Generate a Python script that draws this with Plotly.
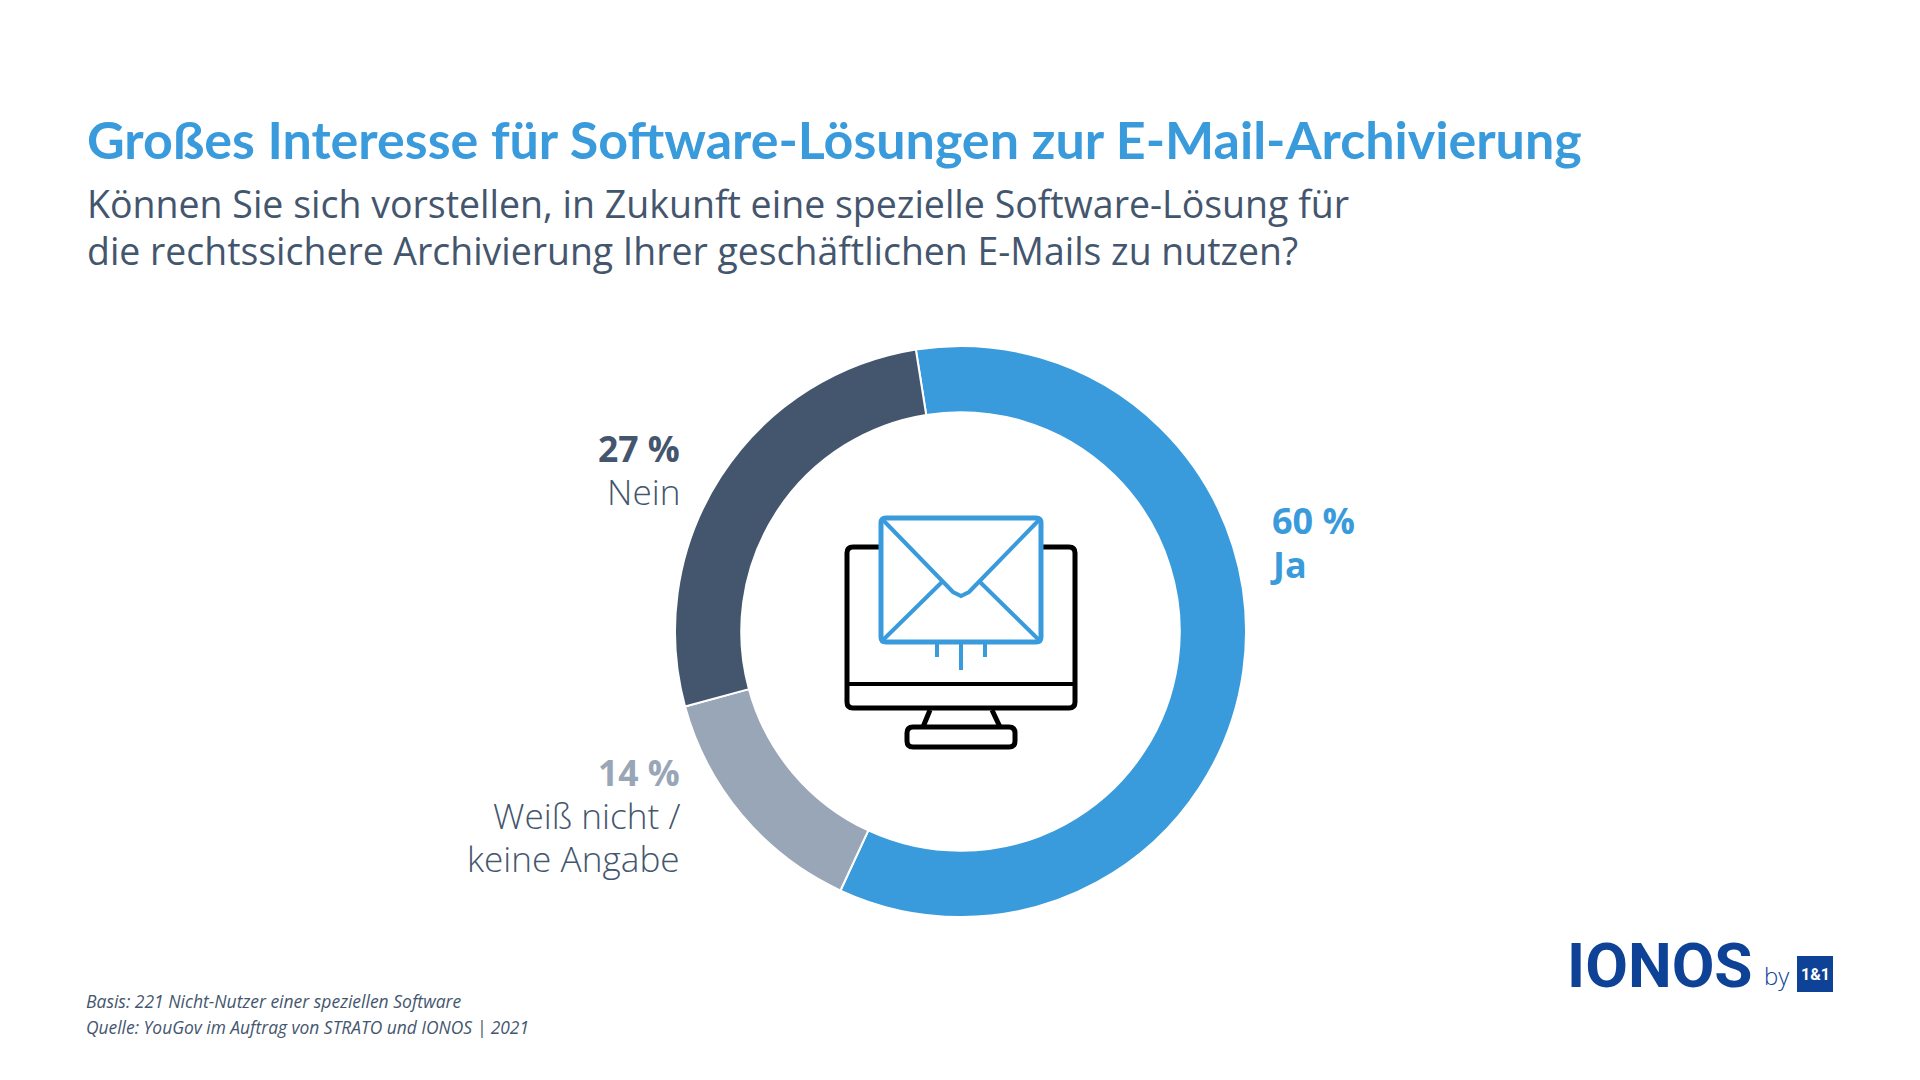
import plotly.graph_objects as go

# Chart data
categories = ['Ja', 'Weiß nicht / keine Angabe', 'Nein']
shares = [60, 14, 27]
slice_colors = ['#3a9bdc', '#98a6b7', '#44566e']

TITLE = 'Großes Interesse für Software-Lösungen zur E-Mail-Archivierung'
SUB_1 = 'Können Sie sich vorstellen, in Zukunft eine spezielle Software-Lösung für'
SUB_2 = 'die rechtssichere Archivierung Ihrer geschäftlichen E-Mails zu nutzen?'
FOOT_1 = 'Basis: 221 Nicht-Nutzer einer speziellen Software'
FOOT_2 = 'Quelle: YouGov im Auftrag von STRATO und IONOS | 2021'

# the page body has an 8px margin, so the figure is a bit smaller than the window
PAGE = 8
W, H = 1920 - 2 * PAGE, 1080 - 2 * PAGE
BLUE = '#3a9bdc'
DARK = '#44566e'
GREY = '#98a6b7'
LOGO = '#0d4296'


def fx(x):
    return (x - PAGE) / W


def fy(y):
    return 1 - (y - PAGE) / H


def text(x, y, s, size, color, anchor='left', family='Open Sans', weight=400, style='normal'):
    return dict(x=fx(x), y=fy(y), xref='paper', yref='paper', text=s, showarrow=False,
                xanchor=anchor, yanchor='middle', align=anchor,
                font=dict(family=family, size=size, color=color, weight=weight, style=style))


def rrect(x0, y0, x1, y1, r):
    # rounded rectangle as svg path in paper coordinates
    pts = [('M', x0 + r, y0), ('L', x1 - r, y0), ('Q', x1, y0, x1, y0 + r), ('L', x1, y1 - r),
           ('Q', x1, y1, x1 - r, y1), ('L', x0 + r, y1), ('Q', x0, y1, x0, y1 - r),
           ('L', x0, y0 + r), ('Q', x0, y0, x0 + r, y0)]
    out = ''
    for p in pts:
        out += p[0]
        vals = p[1:]
        for i in range(0, len(vals), 2):
            out += f' {fx(vals[i]):.5f},{fy(vals[i + 1]):.5f} '
    return out + 'Z'


def poly(points):
    return 'M ' + ' L '.join(f'{fx(a):.5f},{fy(b):.5f}' for a, b in points)


def shape(path, color, width, fill=None):
    return dict(type='path', path=path, xref='paper', yref='paper', layer='above',
                line=dict(color=color, width=width), fillcolor=fill or 'rgba(0,0,0,0)')


fig = go.Figure(go.Pie(
    labels=categories, values=shares, sort=False, direction='clockwise', rotation=-9,
    hole=0.768, textinfo='none', showlegend=False,
    marker=dict(colors=slice_colors, line=dict(color='white', width=2)),
    domain=dict(x=[fx(675), fx(1246)], y=[fy(917), fy(346)]),
))

# Monitor and envelope icon
shapes = [
    shape(rrect(847, 547, 1075, 708, 6), 'black', 5),
    shape(poly([(847, 684), (1075, 684)]), 'black', 4),
    shape(poly([(930, 710), (923, 727)]), 'black', 5),
    shape(poly([(992, 710), (1000, 727)]), 'black', 5),
    shape(rrect(907, 727, 1015, 747, 6), 'black', 5, 'white'),
    shape(rrect(881, 518, 1041, 642, 5), BLUE, 5, 'white'),
    shape(poly([(883, 520), (953, 592), (961, 596), (969, 592), (1039, 520)]), BLUE, 4),
    shape(poly([(883, 640), (942, 582)]), BLUE, 4),
    shape(poly([(1039, 640), (980, 582)]), BLUE, 4),
    shape(poly([(937, 642), (937, 657)]), BLUE, 4),
    shape(poly([(961, 642), (961, 670)]), BLUE, 4),
    shape(poly([(985, 642), (985, 657)]), BLUE, 4),
    dict(type='rect', xref='paper', yref='paper', layer='above', x0=fx(1797), x1=fx(1833),
         y0=fy(992), y1=fy(956), fillcolor=LOGO, line=dict(width=0)),
]

annotations = [
    text(85, 139, TITLE, 52, BLUE, family='Lato', weight=700),
    text(85, 203, SUB_1, 37.5, DARK),
    text(85, 250, SUB_2, 37.4, DARK),
    text(1270, 520, '60 %', 36, BLUE, weight=700),
    text(1268, 564, 'Ja', 36, BLUE, weight=700),
    text(682, 448, '27 %', 35.5, DARK, 'right', weight=700),
    text(682, 491, 'Nein', 35.2, DARK, 'right', weight=300),
    text(682, 772, '14 %', 35.5, GREY, 'right', weight=700),
    text(682, 815, 'Weiß nicht /', 35.2, DARK, 'right', weight=300),
    text(682, 858, 'keine Angabe', 35.2, DARK, 'right', weight=300),
    text(84, 1001, FOOT_1, 17.5, DARK, style='italic'),
    text(84, 1027, FOOT_2, 17.4, DARK, style='italic'),
    text(1565, 965, 'IONOS', 62, LOGO, family='Roboto', weight=700),
    text(1762, 975, 'by', 24, LOGO, weight=300),
    text(1815, 974, '1&amp;1', 16, 'white', 'center', family='Roboto', weight=700),
]

fig.update_layout(
    width=W, height=H, margin=dict(l=0, r=0, t=0, b=0),
    paper_bgcolor='white', plot_bgcolor='white',
    shapes=shapes, annotations=annotations,
)

fig.write_html("out.html")
